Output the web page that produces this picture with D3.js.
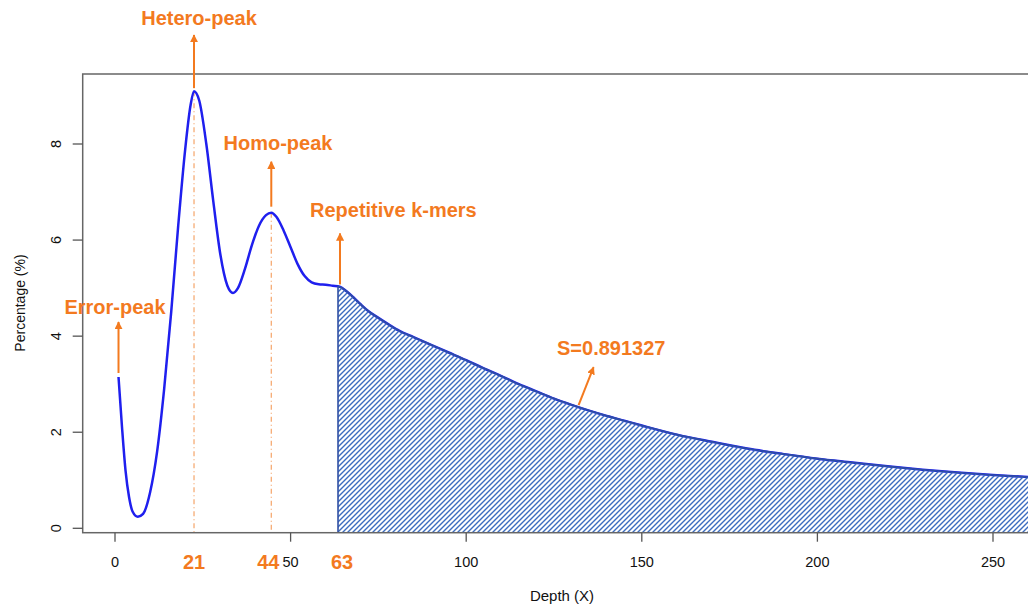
<!DOCTYPE html>
<html>
<head>
<meta charset="utf-8">
<script src="https://cdn.jsdelivr.net/npm/d3@7"></script>
<style>
  body { margin: 0; background: #fff; }
  text { font-family: "Liberation Sans", Arial, Helvetica, sans-serif; }
</style>
</head>
<body>
<svg id="chart"></svg>
<script>
// k-mer depth distribution (percentage of k-mers at each depth)
const depth   = [1, 2, 3, 4, 5, 6.5, 8, 10, 12, 14, 16, 18, 20, 21.5, 22.5, 24, 26, 28, 30, 32, 33.6,
                 35, 37, 39, 41, 43, 44.5, 46, 48, 50, 52, 54, 56, 58, 60, 62, 64, 66, 68, 70, 72,
                 75, 78, 81, 85, 90, 95, 100, 105, 110, 115, 120, 125, 130, 135, 140, 145, 150,
                 160, 170, 180, 190, 200, 210, 220, 230, 240, 250, 262];
const percent = [3.15, 2.1, 1.2, 0.65, 0.35, 0.24, 0.3, 0.75, 1.6, 2.9, 4.5, 6.3, 7.9, 8.8, 9.1, 8.9, 8.0, 6.8, 5.7, 5.05, 4.9,
                 5.0, 5.4, 5.9, 6.3, 6.52, 6.57, 6.48, 6.2, 5.85, 5.5, 5.25, 5.12, 5.08, 5.07, 5.05, 5.03, 4.93, 4.8, 4.66, 4.53,
                 4.38, 4.24, 4.11, 3.98, 3.82, 3.66, 3.5, 3.33, 3.17, 3.0, 2.85, 2.7, 2.57, 2.45, 2.34, 2.24, 2.14,
                 1.95, 1.8, 1.66, 1.55, 1.45, 1.37, 1.29, 1.22, 1.16, 1.11, 1.06];

const xTicks = [0, 50, 100, 150, 200, 250];
const yTicks = [0, 2, 4, 6, 8];

// peaks marked on the x axis
const peakDepth = [22.5, 44.5, 63.5];
const peakLabel = ["21", "44", "63"];

const repeatStart = 63.5;     // start of repetitive k-mer region (hatched)
const sValue = "S=0.891327";

const data = depth.map((d, i) => ({x: d, y: percent[i]}));

const width = 1028, height = 606;
const orange = "#f37a1f";

const svg = d3.select("#chart")
  .attr("width", width)
  .attr("height", height);

const xScale = d3.scaleLinear().domain([0, 250]).range([115, 993]);
const yScale = d3.scaleLinear().domain([0, 8]).range([528.3, 144]);

const box = {left: 82.7, right: 1040, top: 74, bottom: 532.7};

// hatch pattern
const defs = svg.append("defs");
const hs = 5;
const pat = defs.append("pattern")
  .attr("id", "hatch")
  .attr("patternUnits", "userSpaceOnUse")
  .attr("width", hs)
  .attr("height", hs);
pat.append("path")
  .attr("d", `M-1,1 l2,-2 M0,${hs} l${hs},-${hs} M${hs - 1},${hs + 1} l2,-2`)
  .attr("stroke", "#3b6cc0")
  .attr("stroke-width", 1.4);

defs.append("marker")
  .attr("id", "arrow")
  .attr("viewBox", "0 0 10 10")
  .attr("refX", 9).attr("refY", 5)
  .attr("markerWidth", 4).attr("markerHeight", 4)
  .attr("orient", "auto")
  .append("path")
  .attr("d", "M0,0 L10,5 L0,10 z")
  .attr("fill", orange);

defs.append("clipPath").attr("id", "plotclip")
  .append("rect")
  .attr("x", box.left).attr("y", box.top)
  .attr("width", box.right - box.left).attr("height", box.bottom - box.top);

const plot = svg.append("g").attr("clip-path", "url(#plotclip)");

// linear lookup of the curve value at a given depth
const interp = xv => {
  for (let i = 1; i < data.length; i++) {
    if (data[i].x >= xv) {
      const a = data[i - 1], b = data[i];
      return a.y + (b.y - a.y) * (xv - a.x) / (b.x - a.x);
    }
  }
  return data[data.length - 1].y;
};

// dashed lines from peaks down to the axis
plot.selectAll(".peak-line")
  .data(peakDepth.slice(0, 2))
  .join("line")
  .attr("class", "peak-line")
  .attr("x1", d => xScale(d)).attr("x2", d => xScale(d))
  .attr("y1", d => yScale(interp(d)))
  .attr("y2", box.bottom)
  .attr("stroke", "#f5a468")
  .attr("stroke-width", 1.2)
  .attr("stroke-dasharray", "5,3,1,3");

// main curve
const line = d3.line()
  .x(d => xScale(d.x))
  .y(d => yScale(d.y))
  .curve(d3.curveMonotoneX);

plot.append("path")
  .datum(data)
  .attr("d", line)
  .attr("fill", "none")
  .attr("stroke", "#1f1fee")
  .attr("stroke-width", 2.5);

// hatched repetitive region
const areaData = data.filter(d => d.x >= repeatStart);
areaData.unshift({x: repeatStart, y: interp(repeatStart)});
const area = d3.area()
  .x(d => xScale(d.x))
  .y0(box.bottom)
  .y1(d => yScale(d.y))
  .curve(d3.curveMonotoneX);

plot.append("path")
  .datum(areaData)
  .attr("d", area)
  .attr("fill", "url(#hatch)")
  .attr("stroke", "#2f4fa3")
  .attr("stroke-width", 1.6);

// box
svg.append("rect")
  .attr("x", box.left).attr("y", box.top)
  .attr("width", box.right - box.left).attr("height", box.bottom - box.top)
  .attr("fill", "none")
  .attr("stroke", "#666")
  .attr("stroke-width", 1.5);

// x axis
const xAxisG = svg.append("g").attr("transform", `translate(0,${box.bottom})`);
xAxisG.selectAll("line")
  .data(xTicks).join("line")
  .attr("x1", d => xScale(d)).attr("x2", d => xScale(d))
  .attr("y1", 0).attr("y2", 9)
  .attr("stroke", "#555").attr("stroke-width", 1.3);
xAxisG.selectAll("text")
  .data(xTicks).join("text")
  .attr("x", d => xScale(d))
  .attr("y", 34)
  .attr("text-anchor", "middle")
  .attr("font-size", 14.5)
  .attr("fill", "#111")
  .text(d => d);

const peakShift = [0, -3, 4];
xAxisG.selectAll(".peak-label")
  .data(peakDepth).join("text")
  .attr("class", "peak-label")
  .attr("x", (d, i) => xScale(d) + peakShift[i])
  .attr("y", 36)
  .attr("text-anchor", "middle")
  .attr("font-size", 20)
  .attr("font-weight", "bold")
  .attr("fill", orange)
  .text((d, i) => peakLabel[i]);

// y axis
const yAxisG = svg.append("g").attr("transform", `translate(${box.left},0)`);
yAxisG.selectAll("line")
  .data(yTicks).join("line")
  .attr("x1", -10).attr("x2", 0)
  .attr("y1", d => yScale(d)).attr("y2", d => yScale(d))
  .attr("stroke", "#555").attr("stroke-width", 1.3);
yAxisG.selectAll("text")
  .data(yTicks).join("text")
  .attr("transform", d => `translate(${-22},${yScale(d)}) rotate(-90)`)
  .attr("text-anchor", "middle")
  .attr("font-size", 14.5)
  .attr("fill", "#111")
  .text(d => d);

// axis titles
svg.append("text")
  .attr("x", 562).attr("y", 601)
  .attr("text-anchor", "middle")
  .attr("font-size", 15)
  .attr("fill", "#111")
  .text("Depth (X)");
svg.append("text")
  .attr("transform", "translate(25,303) rotate(-90)")
  .attr("text-anchor", "middle")
  .attr("font-size", 14)
  .attr("fill", "#111")
  .text("Percentage (%)");

// annotations
function arrow(x1, y1, x2, y2) {
  svg.append("line")
    .attr("x1", x1).attr("y1", y1).attr("x2", x2).attr("y2", y2)
    .attr("stroke", orange)
    .attr("stroke-width", 2)
    .attr("marker-end", "url(#arrow)");
}
function label(txt, x, y, anchor) {
  svg.append("text")
    .attr("x", x).attr("y", y)
    .attr("text-anchor", anchor || "middle")
    .attr("font-size", 20)
    .attr("font-weight", "bold")
    .attr("fill", orange)
    .text(txt);
}

const px = xScale(depth[0]), py = yScale(percent[0]);
arrow(px, py - 4, px, py - 55);
label("Error-peak", 115, 314);

const hx = xScale(peakDepth[0]), hy = yScale(interp(peakDepth[0]));
arrow(hx, hy - 3, hx, 35);
label("Hetero-peak", 199, 25);

const mx = xScale(peakDepth[1]), my = yScale(interp(peakDepth[1]));
arrow(mx, my - 6, mx, my - 51);
label("Homo-peak", 278, 150);

const rx = xScale(repeatStart), ry = yScale(interp(repeatStart));
arrow(rx + 2, ry - 2, rx + 2, ry - 53);
label("Repetitive k-mers", 310, 217, "start");

const sx = xScale(132), sy = yScale(interp(132));
arrow(sx, sy - 2, sx + 15, sy - 40);
label(sValue, 557, 355, "start");
</script>
</body>
</html>
